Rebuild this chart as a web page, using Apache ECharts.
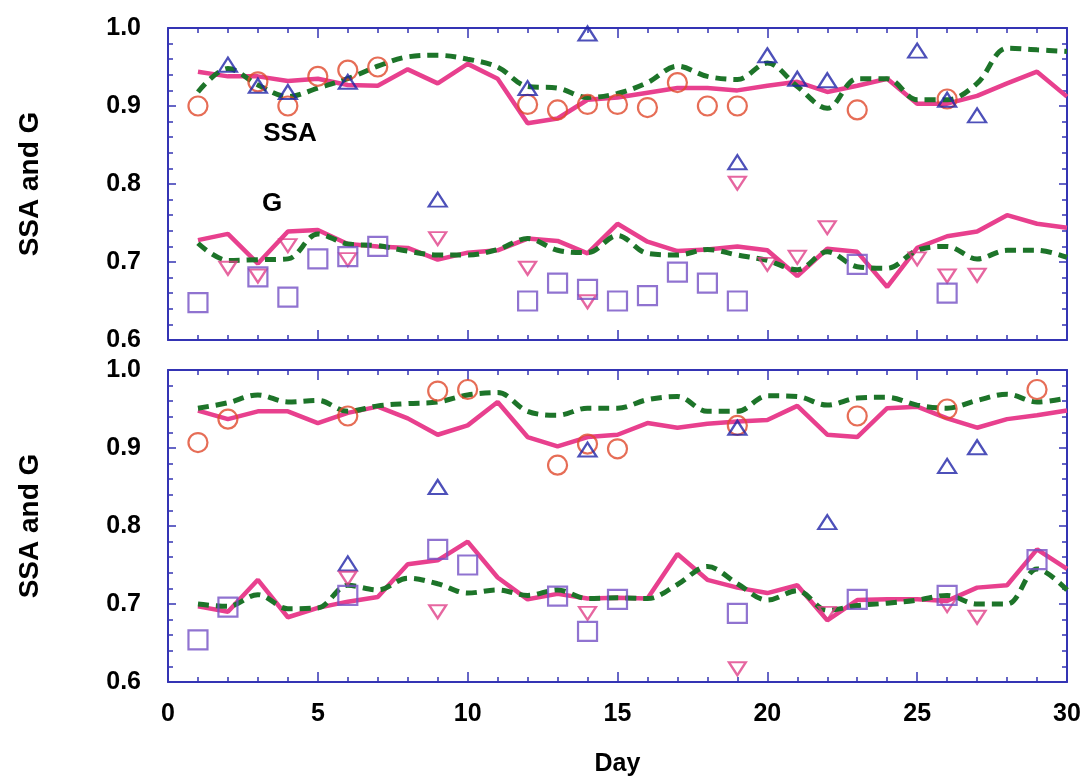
<!DOCTYPE html>
<html><head><meta charset="utf-8">
<script src="https://cdn.jsdelivr.net/npm/echarts@6/dist/echarts.min.js"></script>
<style>html,body{margin:0;padding:0;background:#fff}#c{width:1086px;height:783px}</style>
</head><body><div id="c"></div><script>
// ---------- data ----------
const days = [1,2,3,4,5,6,7,8,9,10,11,12,13,14,15,16,17,18,19,20,21,22,23,24,25,26,27,28,29,30];
const xTicks = [0,5,10,15,20,25,30];
const yTicks = ['0.6','0.7','0.8','0.9','1.0'];

// top panel
const topSsaModel = [0.944,0.938,0.938,0.932,0.935,0.927,0.926,0.947,0.929,0.954,0.935,0.878,0.884,0.908,0.911,0.917,0.923,0.923,0.920,0.926,0.931,0.918,0.926,0.935,0.903,0.903,0.913,0.929,0.944,0.912];
const topSsaDash  = [0.918,0.948,0.927,0.912,0.923,0.935,0.951,0.963,0.965,0.960,0.950,0.925,0.923,0.911,0.916,0.930,0.951,0.938,0.934,0.955,0.925,0.897,0.935,0.935,0.908,0.908,0.929,0.974,0.972,0.970];
const topGModel   = [0.728,0.736,0.698,0.739,0.741,0.723,0.720,0.718,0.703,0.712,0.715,0.730,0.727,0.711,0.749,0.726,0.714,0.716,0.720,0.715,0.682,0.717,0.713,0.668,0.718,0.733,0.739,0.760,0.749,0.744];
const topGDash    = [0.724,0.702,0.703,0.704,0.736,0.723,0.721,0.714,0.709,0.709,0.716,0.730,0.715,0.712,0.734,0.711,0.709,0.716,0.709,0.702,0.690,0.713,0.694,0.692,0.715,0.720,0.704,0.715,0.715,0.706];
const topCircleDays = [1,3,4,5,6,7,12,13,14,15,16,17,18,19,23,26];
const topCircleVals = [0.900,0.931,0.900,0.938,0.946,0.950,0.902,0.895,0.902,0.902,0.898,0.930,0.900,0.900,0.895,0.909];
const topUpDays = [2,3,4,6,9,12,14,19,20,21,22,25,26,27];
const topUpVals = [0.953,0.926,0.918,0.931,0.780,0.923,0.993,0.828,0.965,0.935,0.933,0.971,0.908,0.888];
const topDownDays = [2,3,4,6,9,12,14,19,20,21,22,25,26,27];
const topDownVals = [0.692,0.682,0.721,0.703,0.730,0.692,0.649,0.801,0.697,0.706,0.744,0.704,0.682,0.683];
const topSquareDays = [1,3,4,5,6,7,12,13,14,15,16,17,18,19,23,26];
const topSquareVals = [0.648,0.681,0.655,0.704,0.707,0.720,0.650,0.673,0.665,0.650,0.657,0.687,0.673,0.650,0.697,0.660];

// bottom panel
const botSsaModel = [0.948,0.937,0.947,0.947,0.932,0.945,0.953,0.938,0.917,0.929,0.959,0.914,0.902,0.914,0.917,0.932,0.926,0.931,0.934,0.936,0.954,0.917,0.914,0.951,0.953,0.938,0.926,0.937,0.942,0.948];
const botSsaDash  = [0.951,0.958,0.968,0.959,0.961,0.947,0.954,0.957,0.959,0.968,0.971,0.947,0.942,0.951,0.951,0.962,0.966,0.947,0.947,0.967,0.966,0.955,0.964,0.965,0.955,0.951,0.961,0.969,0.959,0.964];
const botGModel   = [0.697,0.690,0.731,0.683,0.695,0.703,0.709,0.751,0.756,0.780,0.734,0.706,0.713,0.707,0.708,0.707,0.764,0.731,0.721,0.714,0.724,0.679,0.705,0.706,0.706,0.704,0.721,0.724,0.770,0.745];
const botGDash    = [0.700,0.697,0.712,0.694,0.695,0.724,0.718,0.733,0.726,0.714,0.718,0.711,0.718,0.707,0.708,0.707,0.725,0.748,0.726,0.705,0.717,0.692,0.698,0.701,0.705,0.711,0.700,0.700,0.745,0.718];
const botCircleDays = [1,2,6,9,10,13,14,15,19,23,26,29];
const botCircleVals = [0.907,0.937,0.941,0.973,0.975,0.878,0.905,0.899,0.929,0.941,0.950,0.975];
const botUpDays = [6,9,14,19,22,26,27];
const botUpVals = [0.752,0.850,0.898,0.926,0.805,0.877,0.901];
const botDownDays = [6,9,14,19,22,26,27];
const botDownVals = [0.733,0.690,0.688,0.617,0.688,0.698,0.683];
const botSquareDays = [1,2,6,9,10,13,14,15,19,23,26,29];
const botSquareVals = [0.654,0.696,0.711,0.770,0.750,0.710,0.665,0.706,0.688,0.706,0.711,0.757];

// ---------- styling ----------
const AX = '#3434b4';
const PINK = '#e8408e', GREEN = '#1d7429', ORANGE = '#e0482c', BLUE = '#2024a8', PINK2 = '#e04088', PURPLE = '#7450c4';
const BOLD = '"Liberation Sans",Arial,sans-serif';

function zip(xs, ys){ return xs.map((x,i)=>[x, ys[i]]); }

function xAx(grid, pos, showLabel){
  return {type:'value', gridIndex:grid, position:pos, min:0, max:30, interval:5,
    axisLine:{show:true, onZero:false, lineStyle:{color:AX, width:2}},
    axisTick:{show:true, inside:true, length:10, lineStyle:{color:AX, width:1.5}},
    minorTick:{show:true, splitNumber:5, length:5, lineStyle:{color:AX, width:1.5}},
    splitLine:{show:false}, minorSplitLine:{show:false},
    axisLabel:{show:showLabel, margin:20, color:'#000', fontFamily:BOLD, fontWeight:'bold', fontSize:25,
      formatter:v=>String(xTicks.find(t=>Math.abs(t-v)<1e-6) ?? '')},
    name: showLabel ? 'Day' : '', nameLocation:'middle', nameGap:70,
    nameTextStyle:{color:'#000', fontFamily:BOLD, fontWeight:'bold', fontSize:25}
  };
}
function yAx(grid, pos, showLabel){
  return {type:'value', gridIndex:grid, position:pos, min:0.6, max:1.0, interval:0.1,
    axisLine:{show:true, onZero:false, lineStyle:{color:AX, width:2}},
    axisTick:{show:true, inside:true, length:8, lineStyle:{color:AX, width:1.5}},
    minorTick:{show:true, splitNumber:5, length:5, lineStyle:{color:AX, width:1.5}},
    splitLine:{show:false}, minorSplitLine:{show:false},
    axisLabel:{show:showLabel, margin:27, color:'#000', fontFamily:BOLD, fontWeight:'bold', fontSize:25,
      padding:[0,0,8,0],
      formatter:v=>yTicks[Math.round((v-0.6)*10)] || ''},
    name: showLabel ? 'SSA and G' : '', nameLocation:'middle', nameGap:124,
    nameTextStyle:{color:'#000', fontFamily:BOLD, fontWeight:'bold', fontSize:28}
  };
}

function lineS(data, xi, yi, color, dashed){
  return {type:'line', xAxisIndex:xi, yAxisIndex:yi, data:zip(days, data), showSymbol:false, symbol:'none',
    smooth: dashed ? 0.35 : false, z:2,
    lineStyle:{color:color, width: dashed?5:4.5, type: dashed ? [11,7] : 'solid', cap:'butt'}};
}
function scat(xs, ys, xi, yi, symbol, size, color, rot){
  return {type:'scatter', xAxisIndex:xi, yAxisIndex:yi, data:zip(xs, ys), symbol:symbol, symbolSize:size,
    symbolRotate: rot||0, z:3,
    itemStyle:{color:'rgba(255,255,255,0)', borderColor:color, borderWidth:2.2}};
}

function panel(xi, yi, ssaM, ssaD, gM, gD, cD, cV, uD, uV, dD, dV, sD, sV){
  return [
    lineS(ssaM, xi, yi, PINK, false),
    lineS(ssaD, xi, yi, GREEN, true),
    lineS(gM, xi, yi, PINK, false),
    lineS(gD, xi, yi, GREEN, true),
    scat(cD, cV, xi, yi, 'circle', 19, ORANGE),
    scat(uD, uV, xi, yi, 'triangle', [18,14], BLUE),
    scat(dD, dV, xi, yi, 'triangle', [17,13], PINK2, 180),
    scat(sD, sV, xi, yi, 'rect', 19, PURPLE)
  ];
}

const chart = echarts.init(document.getElementById('c'));
chart.setOption({
  backgroundColor:'#fff',
  animation:false,
  grid:[
    {left:168, top:28, width:899, height:312},
    {left:168, top:370, width:899, height:312}
  ],
  xAxis:[ xAx(0,'bottom',false), xAx(0,'top',false), xAx(1,'bottom',true), xAx(1,'top',false) ],
  yAxis:[ yAx(0,'left',true), yAx(0,'right',false), yAx(1,'left',true), yAx(1,'right',false) ],
  series:[
    ...panel(0, 0, topSsaModel, topSsaDash, topGModel, topGDash, topCircleDays, topCircleVals, topUpDays, topUpVals, topDownDays, topDownVals, topSquareDays, topSquareVals),
    ...panel(2, 2, botSsaModel, botSsaDash, botGModel, botGDash, botCircleDays, botCircleVals, botUpDays, botUpVals, botDownDays, botDownVals, botSquareDays, botSquareVals)
  ],
  graphic:[
    {type:'text', x:290, y:134, style:{text:'SSA', fill:'#000', font:'bold 26px "Liberation Sans", Arial, sans-serif', textAlign:'center', textVerticalAlign:'middle'}},
    {type:'text', x:272, y:204, style:{text:'G', fill:'#000', font:'bold 26px "Liberation Sans", Arial, sans-serif', textAlign:'center', textVerticalAlign:'middle'}}
  ]
});
</script></body></html>
